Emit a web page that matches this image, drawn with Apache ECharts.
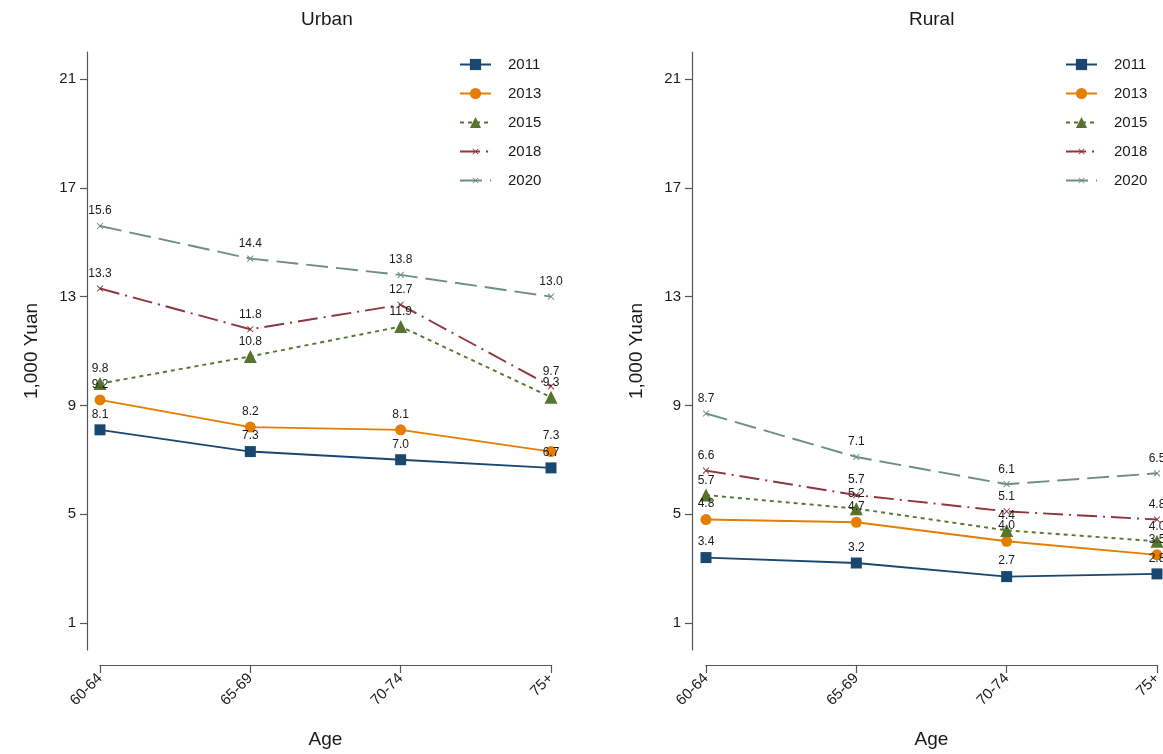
<!DOCTYPE html>
<html lang="en">
<head>
    <meta charset="UTF-8">
    <title>Urban / Rural</title>
    <script src="https://cdn.jsdelivr.net/npm/echarts@6/dist/echarts.min.js"></script>
    <style>
        html, body { margin: 0; padding: 0; background: #fff; }
    </style>
</head>
<body>
<div id="main" style="width: 1163px;height:754px;"></div>
<script type="text/javascript">
    // data
    var categories = ['60-64', '65-69', '70-74', '75+'];
    var years = ['2011', '2013', '2015', '2018', '2020'];
    var yTicks = [1, 5, 9, 13, 17, 21];

    var urban2011 = [8.1, 7.3, 7.0, 6.7];
    var urban2013 = [9.2, 8.2, 8.1, 7.3];
    var urban2015 = [9.8, 10.8, 11.9, 9.3];
    var urban2018 = [13.3, 11.8, 12.7, 9.7];
    var urban2020 = [15.6, 14.4, 13.8, 13.0];

    var rural2011 = [3.4, 3.2, 2.7, 2.8];
    var rural2013 = [4.8, 4.7, 4.0, 3.5];
    var rural2015 = [5.7, 5.2, 4.4, 4.0];
    var rural2018 = [6.6, 5.7, 5.1, 4.8];
    var rural2020 = [8.7, 7.1, 6.1, 6.5];

    var font = "'Liberation Sans', Arial, Helvetica, sans-serif";
    var axisColor = '#555';
    // small x marker, padded with empty moves so the legend icon stays small too
    var crossPath = 'path://M-4,-4 M14,14 M1,0 L5,4 L9,0 L10,1 L6,5 L10,9 L9,10 L5,6 L1,10 L0,9 L4,5 L0,1 Z';

    // style per year: color, symbol, size, dash, label distance
    var styles = {
        '2011': {color: '#1a476f', symbol: 'rect', size: 11, type: 'solid', dist: 4},
        '2013': {color: '#e37e00', symbol: 'circle', size: 11, type: 'solid', dist: 4},
        '2015': {color: '#55752f', symbol: 'triangle', size: 13, type: [4, 4], dist: 2},
        '2018': {color: '#90353b', symbol: crossPath, size: 12, type: [20, 6, 2, 6], dist: 3},
        '2020': {color: '#6e8e84', symbol: crossPath, size: 12, type: [22, 8], dist: 3}
    };

    var myChart = echarts.init(document.getElementById('main'));

    function makeSeries(name, data, idx) {
        var s = styles[name];
        return {
            name: name,
            type: 'line',
            xAxisIndex: idx,
            yAxisIndex: idx,
            data: data,
            symbol: s.symbol,
            symbolSize: s.size,
            showAllSymbol: true,
            itemStyle: {color: s.color},
            lineStyle: {color: s.color, width: 1.9, type: s.type},
            label: {
                show: true,
                position: 'top',
                distance: s.dist,
                color: '#1a1a1a',
                fontSize: 12,
                fontFamily: font,
                formatter: function (p) {
                    return p.value.toFixed(1);
                }
            },
            clip: false
        };
    }

    function makeX(idx) {
        return {
            type: 'category',
            gridIndex: idx,
            data: categories,
            boundaryGap: false,
            offset: 15,
            name: 'Age',
            nameLocation: 'middle',
            nameGap: 65,
            nameMoveOverlap: false,
            nameTextStyle: {fontSize: 19, color: '#1a1a1a', fontFamily: font, verticalAlign: 'top'},
            axisLine: {onZero: false, lineStyle: {color: axisColor, width: 1.2}},
            axisTick: {show: true, alignWithLabel: true, length: 8, lineStyle: {color: axisColor, width: 1.2}},
            axisLabel: {rotate: 45, fontSize: 15, color: '#1a1a1a', fontFamily: font, margin: 11},
            splitLine: {show: false}
        };
    }

    function makeY(idx, off) {
        return {
            type: 'value',
            gridIndex: idx,
            min: 0,
            max: 22,
            offset: off,
            name: '1,000 Yuan',
            nameLocation: 'middle',
            nameGap: 46,
            nameMoveOverlap: false,
            nameTextStyle: {fontSize: 19, color: '#1a1a1a', fontFamily: font},
            axisLine: {show: true, onZero: false, lineStyle: {color: axisColor, width: 1.2}},
            axisTick: {show: true, length: 7, customValues: yTicks, lineStyle: {color: axisColor, width: 1.2}},
            axisLabel: {customValues: yTicks, fontSize: 15, color: '#1a1a1a', fontFamily: font, margin: 11},
            splitLine: {show: false}
        };
    }

    function makeLegend(left) {
        return {
            orient: 'vertical',
            left: left,
            top: 57,
            data: years,
            itemWidth: 31,
            itemHeight: 14,
            itemGap: 14,
            padding: 0,
            textStyle: {fontSize: 15, color: '#1a1a1a', fontFamily: font, padding: [0, 0, 0, 12]},
            selectedMode: false
        };
    }

    var series = [];
    series.push(makeSeries('2011', urban2011, 0));
    series.push(makeSeries('2013', urban2013, 0));
    series.push(makeSeries('2015', urban2015, 0));
    series.push(makeSeries('2018', urban2018, 0));
    series.push(makeSeries('2020', urban2020, 0));
    series.push(makeSeries('2011', rural2011, 1));
    series.push(makeSeries('2013', rural2013, 1));
    series.push(makeSeries('2015', rural2015, 1));
    series.push(makeSeries('2018', rural2018, 1));
    series.push(makeSeries('2020', rural2020, 1));

    var option = {
        animation: false,
        backgroundColor: '#fff',
        title: [
            {text: 'Urban', left: 301, top: 10, padding: 0,
                textStyle: {fontSize: 19, fontWeight: 'normal', color: '#1a1a1a', fontFamily: font}},
            {text: 'Rural', left: 909, top: 10, padding: 0,
                textStyle: {fontSize: 19, fontWeight: 'normal', color: '#1a1a1a', fontFamily: font}}
        ],
        legend: [makeLegend(459), makeLegend(1065)],
        grid: [
            {left: 100, top: 52, width: 451, height: 598, outerBoundsMode: 'none', containLabel: false},
            {left: 706, top: 52, width: 451, height: 598, outerBoundsMode: 'none', containLabel: false}
        ],
        xAxis: [makeX(0), makeX(1)],
        yAxis: [makeY(0, 13), makeY(1, 14)],
        series: series
    };
    myChart.setOption(option);
</script>
</body>
</html>
